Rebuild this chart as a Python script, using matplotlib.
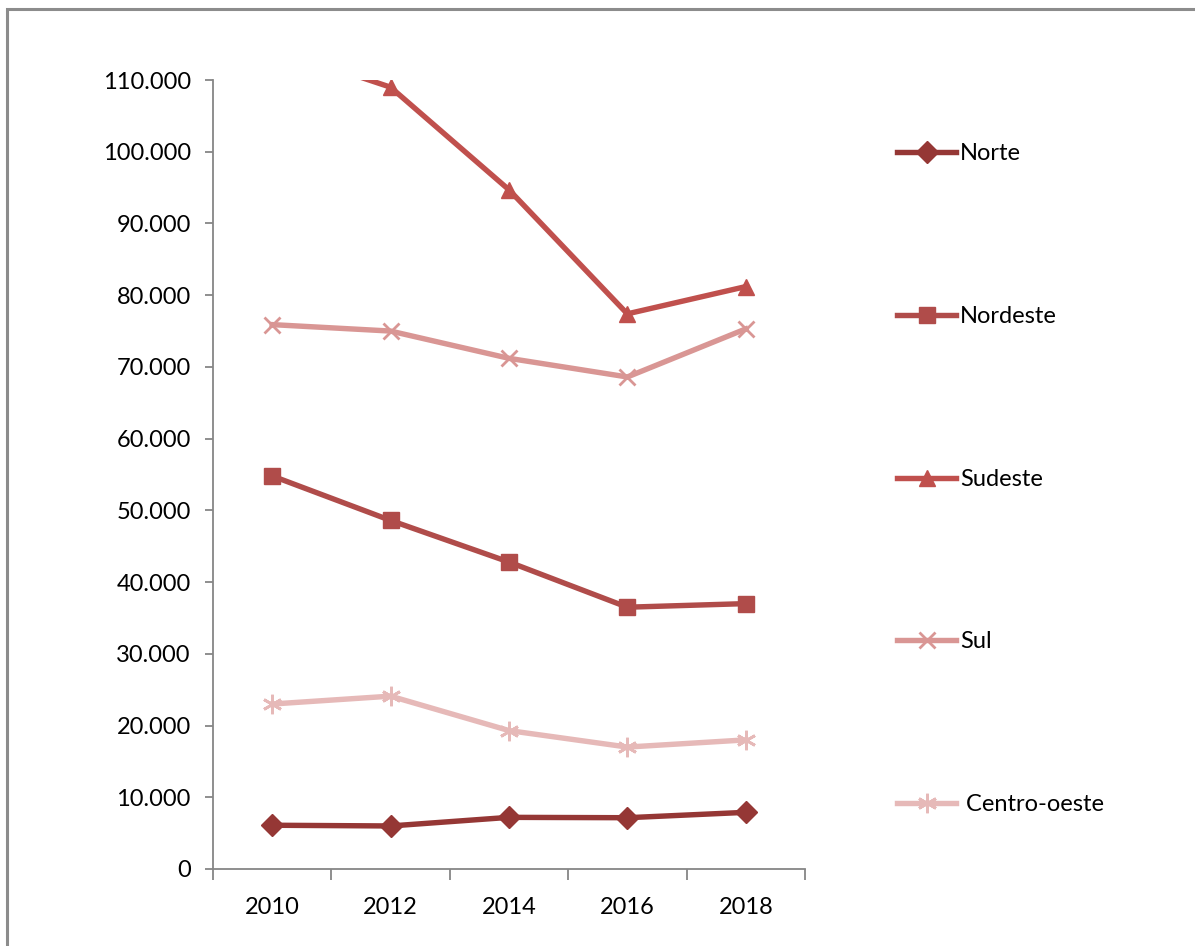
import matplotlib
matplotlib.use("Agg")
import matplotlib.pyplot as plt
from matplotlib.ticker import FuncFormatter, FixedLocator
from matplotlib.patches import Rectangle

plt.rcParams["font.family"] = ["Lato", "DejaVu Sans"]

years = ["2010", "2012", "2014", "2016", "2018"]
norte = [6100, 6000, 7200, 7150, 7900]
nordeste = [54800, 48600, 42800, 36500, 37000]
sudeste = [114500, 109000, 94700, 77400, 81200]
sul = [75900, 75000, 71200, 68600, 75300]
centro_oeste = [23000, 24100, 19300, 17000, 18000]

series = [
    ("Norte", norte, "#953735", "D", 11),
    ("Nordeste", nordeste, "#B04C4A", "s", 11),
    ("Sudeste", sudeste, "#C0504D", "^", 12),
    ("Sul", sul, "#D99694", "x", 11),
    (" Centro-oeste", centro_oeste, "#E6B9B8", (6, 2, 0), 14),
]

fig = plt.figure(figsize=(11.95, 9.46), dpi=100)
fig.patches.append(Rectangle((7 / 1195, -0.1), 1.2, 1 - 9 / 946 + 0.1,
                             transform=fig.transFigure, fill=False,
                             edgecolor="#8c8c8c", linewidth=2.2))
ax = fig.add_axes([0.1782, 0.0814, 0.4954, 0.834])

x = range(len(years))
for label, vals, color, marker, ms in series:
    ax.plot(x, vals, color=color, lw=3.9, marker=marker, ms=ms,
            mew=2 if marker in ("x", (6, 2, 0)) else 1, label=label)

ax.set_ylim(0, 110000)
ax.set_xlim(-0.5, len(years) - 0.5)
ax.yaxis.set_major_locator(FixedLocator(range(0, 110001, 10000)))
ax.yaxis.set_major_formatter(FuncFormatter(lambda v, p: f"{int(v):,}".replace(",", ".")))
ax.set_xticks([i - 0.5 for i in range(len(years) + 1)])
ax.set_xticklabels([])
ax.set_xticks(list(x), minor=True)
ax.set_xticklabels(years, minor=True)
ax.tick_params(axis="x", which="minor", length=0, pad=20, labelsize=17)
ax.tick_params(axis="x", which="major", length=8, color="#868686", width=1.3)
ax.tick_params(axis="y", length=6, color="#868686", width=1.3, labelsize=17, pad=10)
for s in ("top", "right"):
    ax.spines[s].set_visible(False)
for s in ("left", "bottom"):
    ax.spines[s].set_color("#868686")
    ax.spines[s].set_linewidth(1.3)

fig.legend(loc="upper left", bbox_to_anchor=(888 / 1195, 1 - 134 / 946),
           frameon=False, fontsize=17, labelspacing=6.0, handlelength=2.5,
           handletextpad=0.15, borderaxespad=0)

fig.savefig("out.png", dpi=100)
